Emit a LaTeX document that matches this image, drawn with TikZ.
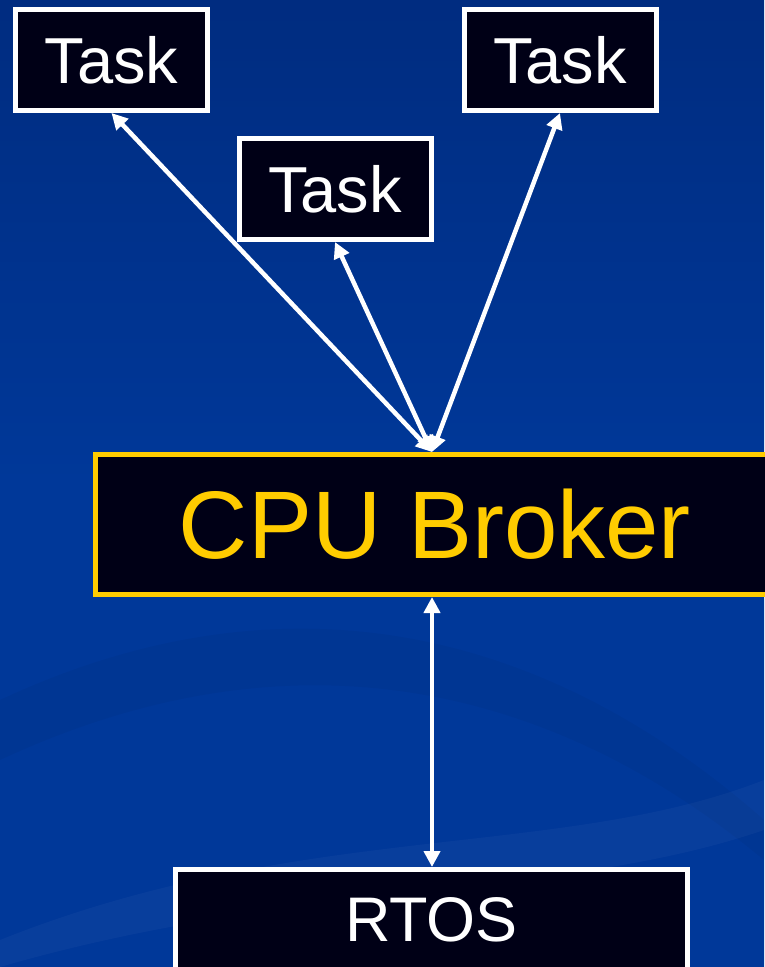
\documentclass[tikz,border=0pt]{standalone}
\usepackage{fontspec}
\setmainfont{Liberation Sans}
\usetikzlibrary{arrows.meta}
\definecolor{bgblue}{RGB}{0,56,153}
\definecolor{bgdark}{RGB}{0,44,128}
\definecolor{boxfill}{RGB}{0,0,22}
\definecolor{brokeryellow}{RGB}{255,204,0}
\tikzset{
  taskbox/.style={draw=white, fill=boxfill, line width=5pt, minimum width=192pt, minimum height=101pt, inner sep=0pt, text=white, font=\fontsize{65}{65}\selectfont},
  brokerbox/.style={draw=brokeryellow, fill=boxfill, line width=5pt, minimum width=679pt, minimum height=140pt, inner sep=0pt, text=brokeryellow, font=\fontsize{96}{96}\selectfont},
  link/.style={draw=white, line width=4.5pt, {Triangle[length=16pt,width=16pt]}-{Triangle[length=16pt,width=16pt]}}
}
\begin{document}
\begin{tikzpicture}[x=1pt,y=-1pt]
\useasboundingbox (0,0) rectangle (764,967);
\shade[top color=bgdark, bottom color=bgblue, middle color=bgblue] (0,0) rectangle (764,967);
\fill[black, opacity=0.035] (0,700) .. controls (300,560) and (560,640) .. (764,820) -- (764,860) .. controls (560,690) and (300,620) .. (0,760) -- cycle;
\fill[white, opacity=0.03] (0,940) .. controls (300,820) and (560,860) .. (764,780) -- (764,830) .. controls (560,900) and (300,880) .. (0,967) -- cycle;
\node[taskbox] (t1) at (111.5,60) {Task};
\node[taskbox] (t2) at (335,189) {Task};
\node[taskbox] (t3) at (560,60) {Task};
\node[brokerbox] (cpu) at (435,524.5) {CPU Broker};
\node[taskbox, minimum width=512pt, minimum height=101pt, font=\fontsize{63}{63}\selectfont] (rtos) at (431.5,920) {RTOS};
\coordinate (hub) at (432,452);
\draw[link] (hub) -- (t1.south);
\draw[link] (hub) -- (t2.south);
\draw[link] (hub) -- (t3.south);
\draw[link] (cpu.south -| hub) -- (rtos.north -| hub);
\end{tikzpicture}
\end{document}
